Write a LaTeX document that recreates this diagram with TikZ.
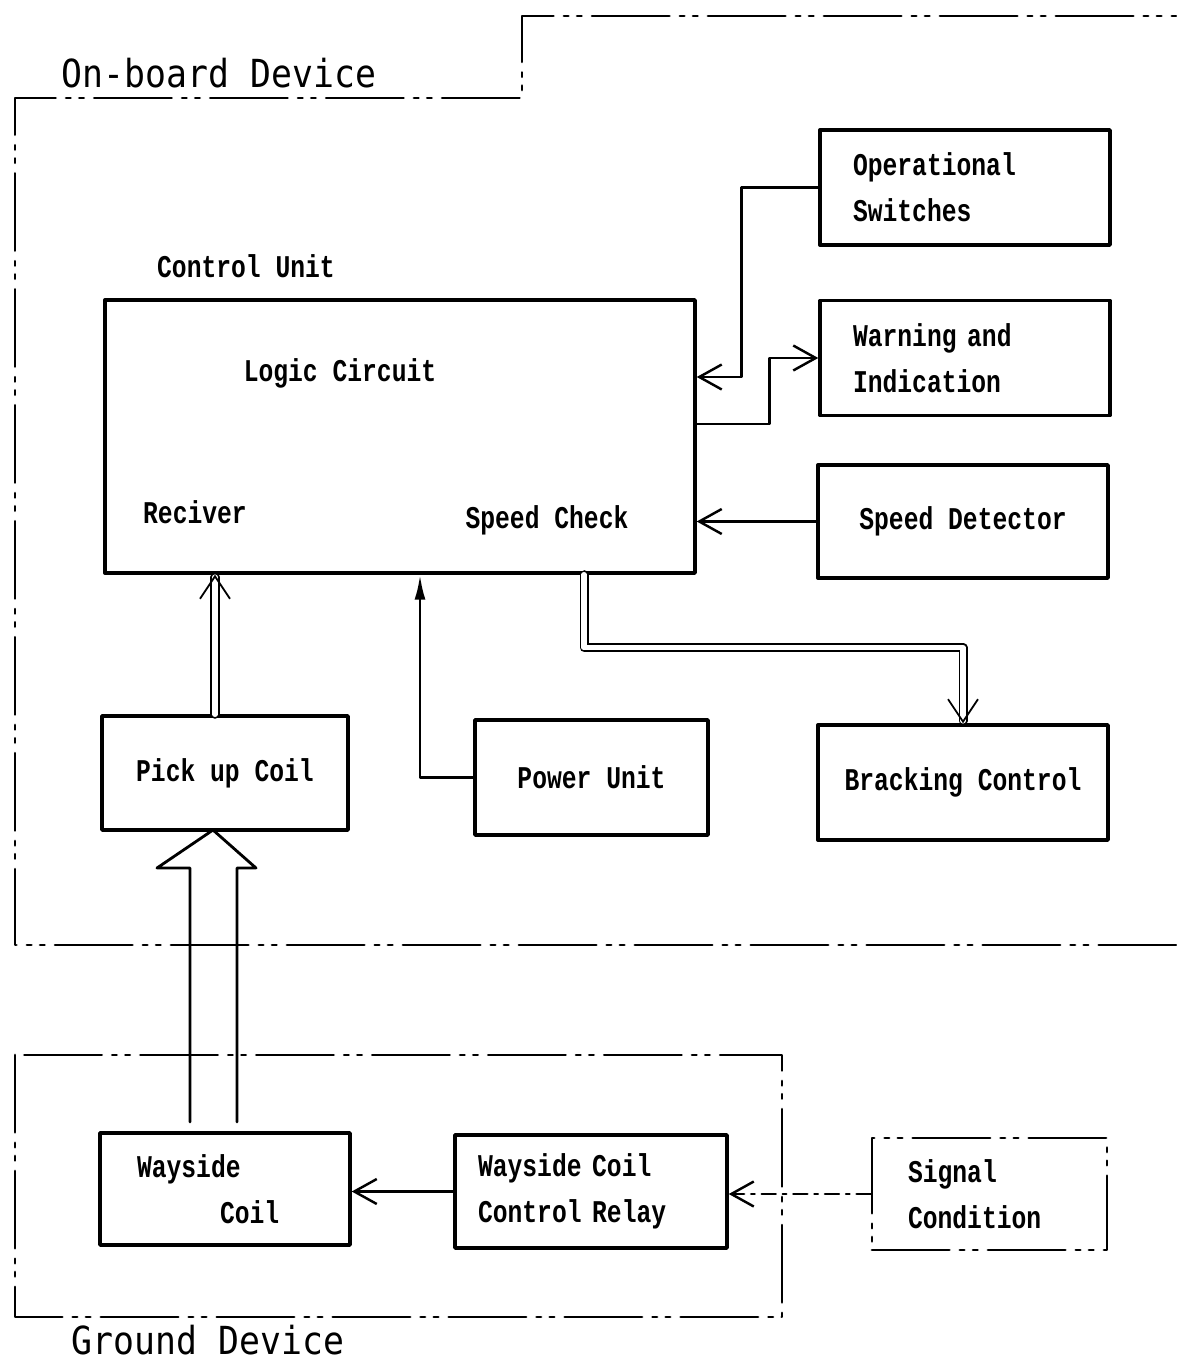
\documentclass[tikz,border=0pt]{standalone}
\usepackage{fontspec}
\usetikzlibrary{arrows.meta}
\newfontfamily\typefont[FakeStretch=0.78]{Liberation Mono}
\newfontfamily\headfont[FakeStretch=0.9]{DejaVu Sans Mono}

\begin{document}
\begin{tikzpicture}[
		x=0.02cm, y=-0.02cm,
		line cap=round,
		line join=round,
		every node/.style={font=\typefont\bfseries\fontsize{18}{26}\selectfont},
		unit/.style={draw, line width=2pt, inner sep=0pt, minimum height=2.3cm},
		head/.style={font=\headfont\fontsize{22}{28}\selectfont},
		boundary/.style={line width=1.6pt, dash pattern=on 44pt off 6pt on 2.5pt off 5pt on 2.5pt off 6pt},
		link/.style={line width=1.4pt, -{Straight Barb[length=0.45cm,width=0.5cm]}},
		dbl/.style={double, double distance=0.11cm, line width=1pt, -{Straight Barb[length=0.45cm,width=0.6cm]}}
	]
	\useasboundingbox (0,0) rectangle (1176,1361);
	
	% Boundaries
	\draw[boundary] (1176,945) -- (15,945) -- (15,98) -- (522,98) -- (522,16) -- (1176,16);
	\draw[boundary] (15,1055) rectangle (782,1317);
	\node[head, anchor=base] (onboard) at (219,88) {On-board Device};
	\node[head, anchor=base, inner ysep=0pt] (ground) at (208,1354) {Ground Device};
	
	% Control unit
	\node (cutitle) at (246,266) {Control Unit};
	\node[unit, minimum width=11.8cm, minimum height=5.46cm] (cu) at (400,436.5) {};
	\node (logic) at (340,373) {Logic Circuit};
	\node (recv) at (195,512) {Reciver};
	\node (check) at (547,520) {Speed Check};
	
	% On-board units
	\node[unit, text width=4.48cm, inner xsep=0.66cm, align=left] (ops) at (965,187.5) {Operational\\Switches};
	\node[unit, text width=4.48cm, inner xsep=0.66cm, align=left] (warn) at (965,358) {Warning and\\Indication};
	\node[unit, minimum width=5.8cm, minimum height=2.26cm] (spd) at (963,521.5) {Speed Detector};
	\node[unit, minimum width=5.8cm] (brk) at (963,782.5) {Bracking Control};
	\node[unit, minimum width=4.66cm] (pwr) at (591.5,777.5) {Power Unit};
	\node[unit, minimum width=4.92cm, minimum height=2.28cm] (pick) at (225,773) {Pick up Coil};
	
	% Ground units
	\node[unit, text width=3.52cm, inner xsep=0.74cm, minimum height=2.24cm, align=left] (way) at (225,1189) {Wayside\\\hspace*{1.66cm}Coil};
	\node[unit, text width=4.52cm, inner xsep=0.46cm, minimum height=2.26cm, align=left] (relay) at (591,1191.5) {Wayside Coil\\Control Relay};
	\node[unit, boundary, text width=3.26cm, inner xsep=0.72cm, minimum height=2.24cm, align=left] (sig) at (989.5,1194) {Signal\\Condition};
	
	% Signal lines
	\draw[link] (ops.west) -- ++(-77,0) |- (cu.east |- 0,377);
	\draw[link] (cu.east |- 0,424) -- ++(73,0) |- (warn.west);
	\draw[link] (spd.west) -- (cu.east |- spd.west);
	\draw[line width=1.6pt, -{Latex[length=0.5cm,width=0.22cm]}] (pwr.west) -| (cu.south -| 420,0);
	\draw[dbl] (cu.south -| 584,0) -- ++(0,73) -| (brk.north);
	\draw[dbl] (pick.north -| 215,0) -- (cu.south -| 215,0);
	\draw[link] (relay.west) -- (way.east |- relay.west);
	\draw[link, dash pattern=on 8pt off 4pt on 2pt off 4pt] (sig.west) -- (relay.east |- sig.west);
	
	% Hollow arrow from wayside coil to pick up coil
	\draw[line width=1.6pt] (190,1122) -- (190,868) -- (157,868) -- (213,830) -- (256,868) -- (237,868) -- (237,1122);
\end{tikzpicture}
\end{document}
